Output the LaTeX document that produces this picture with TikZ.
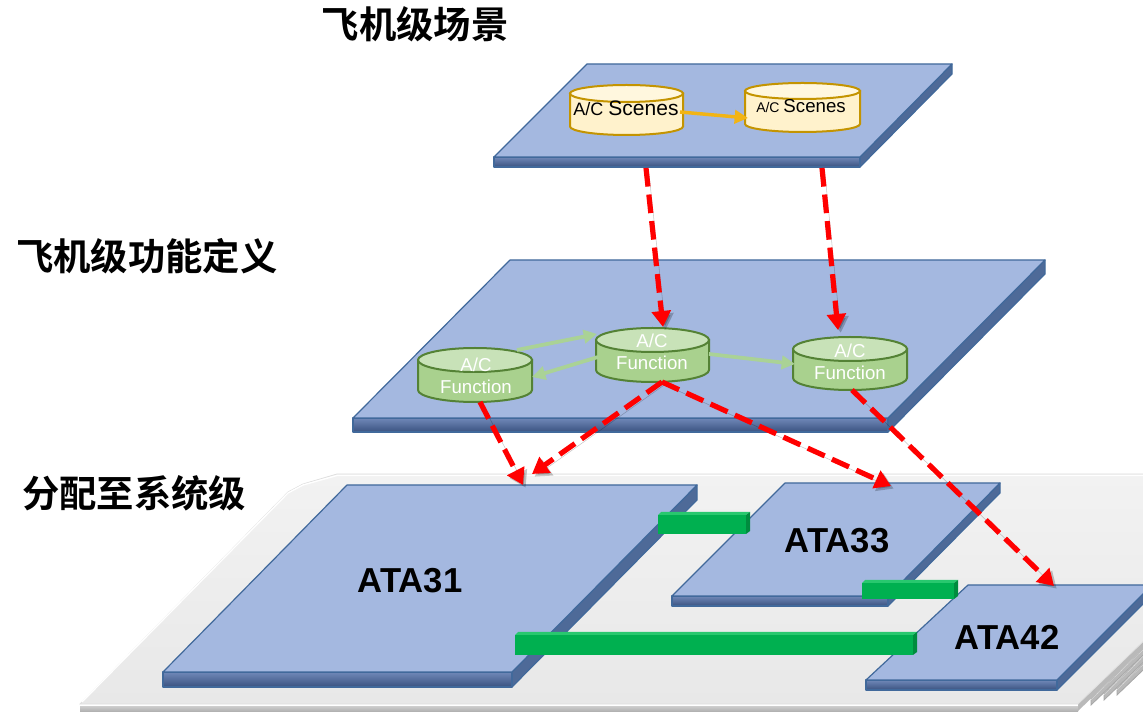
\documentclass[tikz,border=0pt]{standalone}
\usepackage{fontspec}
\setmainfont{Liberation Sans}
\newfontfamily\cjk{Noto Sans CJK SC}[BoldFont={Noto Sans CJK SC Bold}]
\usetikzlibrary{arrows.meta}
\definecolor{planetop}{RGB}{164,184,224}
\definecolor{planeedge}{RGB}{65,105,155}
\definecolor{planefront}{RGB}{112,136,184}
\definecolor{planefrontdark}{RGB}{58,82,128}
\definecolor{planeright}{RGB}{78,106,152}
\definecolor{scenefill}{RGB}{255,242,204}
\definecolor{scenetop}{RGB}{255,247,222}
\definecolor{sceneedge}{RGB}{196,148,0}
\definecolor{funcfill}{RGB}{169,209,142}
\definecolor{functop}{RGB}{200,226,184}
\definecolor{funcedge}{RGB}{84,130,53}
\definecolor{greenbar}{RGB}{0,176,80}
\definecolor{greenbartop}{RGB}{40,200,110}
\definecolor{greenbarend}{RGB}{0,140,62}
\definecolor{greenarrow}{RGB}{170,210,150}
\definecolor{orangearrow}{RGB}{242,180,20}
\definecolor{redarrow}{RGB}{255,0,0}
\definecolor{sheettop}{RGB}{242,242,242}
\definecolor{sheetbot}{RGB}{232,232,232}
\tikzset{
  title/.style={font=\cjk\bfseries\fontsize{28}{30}\selectfont, text=black, inner sep=0pt},
  atalabel/.style={font=\bfseries\fontsize{26}{30}\selectfont, text=black, inner sep=0pt},
  funclabel/.style={font=\fontsize{14}{16.5}\selectfont, text=white, align=center, inner sep=0pt},
  redarr/.style={draw=redarrow, line width=3.9pt, dash pattern=on 14pt off 6pt,
     -{Triangle[length=12pt,width=14pt]},
     preaction={draw=black, opacity=0.22, transform canvas={shift={(2pt,-2pt)}}}},
  grnarr/.style={draw=greenarrow, line width=2.8pt, -{Triangle[length=10pt,width=10pt]}},
  orgarr/.style={draw=orangearrow, line width=2.6pt, -{Triangle[length=10pt,width=10pt]}},
  edgeline/.style={draw=planeedge, line width=0.9pt, line join=round},
}
% slab: xtl, ytop, xtr, xbl, ybot, xbr, thickness
\newcommand\slab[7]{%
  \fill[planeright] (#6,#5) -- (#3,#2) -- (#3,#2+#7) -- (#6,#5+#7) -- cycle;
  \shade[top color=planefront, bottom color=planefrontdark] (#4,#5) rectangle (#6,#5+#7);
  \draw[edgeline] (#4,#5) rectangle (#6,#5+#7);
  \draw[edgeline] (#6,#5) -- (#3,#2) -- (#3,#2+#7) -- (#6,#5+#7);
  \filldraw[fill=planetop, edgeline] (#1,#2) -- (#3,#2) -- (#6,#5) -- (#4,#5) -- cycle;
}
% cylinder: cx, ytop, ybot, rx, ry, body, top, edge
\newcommand\cylnd[8]{%
  \filldraw[fill=#6, draw=#8, line width=1.5pt] (#1-#4,#2) -- (#1-#4,#3)
     arc[start angle=180, end angle=0, x radius=#4, y radius=#5] -- (#1+#4,#2) -- cycle;
  \filldraw[fill=#7, draw=#8, line width=1.5pt] (#1,#2) ellipse[x radius=#4, y radius=#5];
}
% green bar: x1, x2, ytop(front), ybot(front)
\newcommand\gbar[4]{%
  \fill[greenbartop] (#1,#3) -- (#1+3,#3-3) -- (#2+4,#3-3) -- (#2,#3) -- cycle;
  \fill[greenbarend] (#2,#3) -- (#2+4,#3-3) -- (#2+4,#4-3) -- (#2,#4) -- cycle;
  \fill[greenbar] (#1,#3) rectangle (#2,#4);
}
\begin{document}
\begin{tikzpicture}[x=0.75pt,y=-0.75pt]
\useasboundingbox (0,0) rectangle (1143,712);
\clip (0,0) rectangle (1143,712);
% ---------- stacked grey sheets ----------
\begin{scope}
\clip (1000,560) rectangle (1143,712);
\foreach \k in {3,2,1} {
  \filldraw[fill=gray!55, draw=gray!70, line width=0.6pt]
    (1078+13*\k,704-5*\k) -- (1318+13*\k,474-5*\k) -- (1318+13*\k,480-5*\k) -- (1078+13*\k,710-5*\k) -- cycle;
  \filldraw[fill=sheetbot, draw=white, line width=0.8pt]
    (80+13*\k,704-5*\k) -- (337+13*\k,474-5*\k) -- (1318+13*\k,474-5*\k) -- (1078+13*\k,704-5*\k) -- cycle;
  \draw[gray!60, line width=0.5pt] (1078+13*\k,704-5*\k) -- (1318+13*\k,474-5*\k);
}
\end{scope}
\fill[gray!55] (1078,704) -- (1318,474) -- (1318,481) -- (1078,711) -- cycle;
\shade[top color=gray!30, bottom color=gray!60] (80,704) rectangle (1078,711);
\draw[white, line width=0.8pt] (80,705) -- (1078,705);
\shade[top color=sheettop, bottom color=sheetbot, draw=gray!25, line width=0.6pt]
  (80,704) -- (288,492) -- (303,484) -- (337,474) -- (1318,474) -- (1078,704) -- cycle;
\draw[white, line width=1pt] (82,702) -- (288,493) -- (303,485) -- (337,475.5) -- (1143,475.5);
% ---------- system level planes ----------
\slab{347}{485}{697}{163}{672}{512}{15}
\slab{785}{483}{1000}{672}{596}{888}{10}
\slab{968}{585}{1152}{866}{680}{1057}{10}
\node[atalabel] (ata31) at (410,581) {ATA31};
\node[atalabel] (ata33) at (837,541) {ATA33};
\node[atalabel] (ata42) at (1007,637) {ATA42};
% ---------- green bars ----------
\gbar{658}{746}{515}{534}
\gbar{862}{954}{583}{599}
\gbar{515}{913}{635}{655}
% ---------- top and middle planes ----------
\slab{587}{64}{952}{494}{157}{860}{10}
\slab{510}{260}{1045}{353}{418}{888}{14}
% ---------- scene cylinders ----------
\cylnd{626.5}{93.5}{126.5}{56.5}{8.5}{scenefill}{scenetop}{sceneedge}
\cylnd{802.5}{91}{124}{57.5}{8}{scenefill}{scenetop}{sceneedge}
\node[inner sep=0pt, text=black] (s1) at (626,108)
  {\fontsize{13.5}{15}\selectfont A/C \fontsize{15.75}{18}\selectfont Scenes};
\node[inner sep=0pt, text=black] (s2) at (801,106)
  {\fontsize{10.5}{12}\selectfont A/C \fontsize{14}{16}\selectfont Scenes};
% ---------- function cylinders ----------
\cylnd{475}{360}{390}{57}{12}{funcfill}{functop}{funcedge}
\cylnd{652.5}{340}{370}{56.5}{12}{funcfill}{functop}{funcedge}
\cylnd{850}{349}{378}{57}{12}{funcfill}{functop}{funcedge}
\node[funclabel] (f1) at (476,376) {A/C\\Function};
\node[funclabel] (f2) at (652,352) {A/C\\Function};
\node[funclabel] (f3) at (850,362) {A/C\\Function};
% ---------- connector end points ----------
\coordinate (s1out) at (680,112);
\coordinate (s2in) at (748,118);
\coordinate (s1down) at (646,168);
\coordinate (s2down) at (822,168);
\coordinate (f1out) at (517,350);
\coordinate (f2in) at (597,334);
\coordinate (f2outl) at (598,357);
\coordinate (f1in) at (532,377);
\coordinate (f2outr) at (709,354);
\coordinate (f3in) at (795,364);
\coordinate (f2top) at (663,327);
\coordinate (f3top) at (838,330);
\coordinate (f1bot) at (480,402);
\coordinate (f2bot) at (662,382);
\coordinate (f3bot) at (852,390);
\coordinate (ata31a) at (523,485);
\coordinate (ata31b) at (532,474);
\coordinate (ata33a) at (891,486);
\coordinate (ata42a) at (1054,586);
% ---------- connectors ----------
\draw[orgarr] (s1out) -- (s2in);
\draw[grnarr] (f1out) -- (f2in);
\draw[grnarr] (f2outl) -- (f1in);
\draw[grnarr] (f2outr) -- (f3in);
\draw[redarr] (s1down) -- (f2top);
\draw[redarr] (s2down) -- (f3top);
\draw[redarr] (f1bot) -- (ata31a);
\draw[redarr] (f2bot) -- (ata31b);
\draw[redarr] (f2bot) -- (ata33a);
\draw[redarr] (f3bot) -- (ata42a);
% ---------- titles ----------
\node[title] (t1) at (415,24) {飞机级场景};
\node[title] (t2) at (147,256) {飞机级功能定义};
\node[title] (t3) at (134,493) {分配至系统级};
\end{tikzpicture}
\end{document}
